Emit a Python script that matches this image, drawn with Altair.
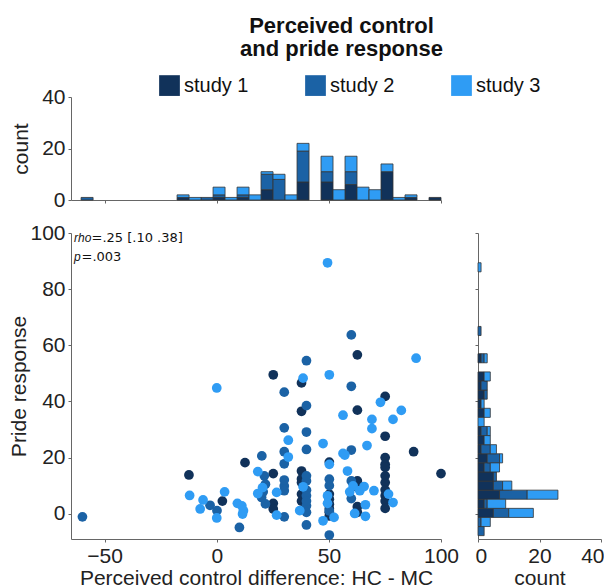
import altair as alt
import pandas as pd

STUDIES = ["study 1", "study 2", "study 3"]
COLORS = ["#11325a", "#1b62a5", "#2f9cf4"]

# ---- scatter data (perceived control difference, pride response) ----
x1 = [-12.4, 2.5, 12.6, 25.2, 25.2, 25.2, 25.2, 37.8, 37.8, 37.8, 37.8, 37.8, 37.8, 37.8,
      50.2, 50.2, 50.2, 50.2, 50.2, 50.2, 50.2, 62.7, 62.7, 62.7, 62.7, 62.7, 62.7,
      75.1, 75.1, 75.1, 75.1, 75.1, 75.1, 75.1, 75.1, 75.1, 75.1, 75.1, 87.8, 100.0]
y1 = [13.8, 4.5, 18.2, 49.5, 14.3, 3.7, 1.7, 46.6, 36.5, 15.2, 12.4, 11.1, 7.0, 4.5,
      18.4, 7.0, 5.2, 3.4, 1.8, 0.5, -0.8, 56.6, 36.9, 11.7, 9.5, 0.5, 2.5,
      41.8, 27.6, 20.0, 17.6, 16.5, 11.1, 6.4, 4.5, 1.9, 8.5, 13.5, 22.1, 14.3]
x2 = [-59.9, -3.0, 0.1, 10.1, 20.1, 20.0, 20.7, 21.7, 21.7, 21.2,
      30.1, 30.1, 30.1, 30.1, 30.1, 30.1, 30.1, 30.1,
      40.0, 40.0, 40.0, 40.0, 40.0, 40.0, 40.0, 40.0, 40.0, 40.0, 40.0, 40.0,
      50.2, 50.2, 50.2, 50.2, 60.0, 60.0, 60.0, 60.0, 60.0]
y2 = [-1.1, 3.0, 1.1, -4.9, 20.6, 5.8, 7.8, 10.5, 3.5, 13.5,
      43.3, 30.6, 22.1, 17.8, 9.9, 8.2, -1.1, 12.0,
      54.5, 38.5, 29.1, 22.9, 11.7, 8.4, 6.4, 2.8, 0.5, -4.0, 4.5, 13.5,
      12.3, -7.6, 10.0, 1.0, 63.7, 45.4, 22.7, 11.7, 5.4]
x3 = [-12.1, -7.4, -6.1, 0.0, 0.0, 3.5, 9.2, 11.2, 11.9, 11.5, 18.3, 18.3, 20.4, 26.7, 26.7,
      31.9, 31.9, 37.0, 38.5, 38.5, 50.2, 47.4, 50.2, 49.4, 49.4, 52.3, 47.4, 49.4,
      56.3, 56.3, 57.1, 58.3, 60.8, 59.3, 63.8, 65.7, 61.5, 66.3, 66.3, 70.1, 69.2, 69.2,
      67.0, 73.0, 78.6, 82.3, 76.6, 78.6, 88.9]
y3 = [6.5, 1.7, 4.9, 44.8, -1.5, 7.8, 3.7, 2.8, 1.1, -0.1, 15.0, 7.2, 9.3, 7.6, -0.5,
      26.2, 20.2, 1.1, 48.3, 9.6, 49.5, 25.0, 17.6, 6.4, 3.7, -1.3, -2.5, 89.4,
      35.1, 21.5, 20.9, 15.2, 9.9, 7.8, 8.2, 9.7, 0.1, 3.2, -0.9, 8.2, 33.6, 30.3,
      24.3, 39.7, 33.6, 36.8, 7.0, 4.0, 55.4]

# ---- top histogram (perceived control), 30 bins ----
top_start = -60.5
top_width = 5.35
top_s1 = [0,0,0,0,0,0,0,0,1,0,0,1,0,1,0,4,0,0,7,0,7,0,6,0,0,11,0,1,0,1]
top_s2 = [1,0,0,0,0,0,0,0,0,0,1,1,0,1,0,6,8,0,12,0,4,0,5,0,0,0,0,0,0,0]
top_s3 = [0,0,0,0,0,0,0,0,1,1,0,3,1,3,2,1,2,2,3,0,6,4,6,5,4,3,1,1,0,0]

# ---- right histogram (pride response), 30 bins ----
right_start = -7.8
right_width = 3.24
right_s1 = [0,0,5,2,7,5,5,2,3,1,2,1,0,2,1,2,1,2,0,1,0,0,0,0,0,0,0,0,0,0]
right_s2 = [2,1,5,1,9,3,1,2,4,3,0,2,0,0,0,1,2,0,0,1,0,0,1,0,0,0,0,0,0,0]
right_s3 = [0,3,8,6,10,3,0,3,1,2,2,1,2,2,1,0,0,2,0,1,0,0,0,0,0,0,0,0,0,1]

FONT = "Liberation Sans"
ANN_FONT = "DejaVu Sans"
LABEL_FS = 21
TITLE_FS = 21

scat_rows = []
for i, (xs, ys) in enumerate([(x1, y1), (x2, y2), (x3, y3)]):
    for a, b in zip(xs, ys):
        scat_rows.append({"x": a, "y": b, "study": STUDIES[i], "idx": i})
scat_df = pd.DataFrame(scat_rows)


def hist_rows(start, width, series):
    rows = []
    for i, counts in enumerate(series):
        for k, c in enumerate(counts):
            if c > 0:
                rows.append({"lo": start + k * width, "hi": start + (k + 1) * width,
                             "count": c, "study": STUDIES[i], "idx": i})
    return pd.DataFrame(rows)


top_df = hist_rows(top_start, top_width, [top_s1, top_s2, top_s3])
right_df = hist_rows(right_start, right_width, [right_s1, right_s2, right_s3])

color_scale = alt.Scale(domain=STUDIES, range=COLORS)
xdom = alt.Scale(domain=[-65, 100], nice=False, zero=False, padding=0)
ydom = alt.Scale(domain=[-9, 100], nice=False, zero=False, padding=0)
cdom = alt.Scale(domain=[0, 40], nice=False, zero=False, padding=0)

stack_sort = [alt.SortField("idx", order="ascending")]

top = alt.Chart(top_df).transform_stack(
    stack="count", groupby=["lo"], as_=["c0", "c1"], sort=stack_sort
).mark_rect(stroke="#333333", strokeWidth=0.8).encode(
    x=alt.X("lo:Q", scale=xdom,
            axis=alt.Axis(labels=False, title=None, values=[-50, 0, 50, 100], tickSize=3)),
    x2="hi:Q",
    y=alt.Y("c0:Q", scale=cdom,
            axis=alt.Axis(values=[0, 20, 40], title="count", minExtent=40, titlePadding=0,
                          tickSize=3)),
    y2="c1:Q",
    color=alt.Color("study:N", scale=color_scale,
                    legend=alt.Legend(title=None, orient="none", direction="horizontal",
                                      legendX=88, legendY=-22, symbolType="square",
                                      symbolSize=430, symbolStrokeWidth=0,
                                      symbolOpacity=1,
                                      labelFontSize=20, labelFont=FONT, labelColor="#111",
                                      columnPadding=56, labelOffset=4)),
).properties(width=370, height=103)

points = alt.Chart(scat_df).mark_circle(size=95, opacity=1).encode(
    x=alt.X("x:Q", scale=xdom,
            axis=alt.Axis(values=[-50, 0, 50, 100], title="Perceived control difference: HC - MC",
                          tickSize=3, labelPadding=3, titlePadding=1, labelFlush=False)),
    y=alt.Y("y:Q", scale=ydom,
            axis=alt.Axis(values=[0, 20, 40, 60, 80, 100], title="Pride response",
                          minExtent=40, titlePadding=0, tickSize=3)),
    color=alt.Color("study:N", scale=color_scale, legend=None),
    order=alt.Order("idx:Q"),
)

t_rho = alt.Chart(pd.DataFrame({"t": ["rho"]})).mark_text(
    align="left", baseline="alphabetic", fontSize=12, fontStyle="italic", font=FONT, color="#111"
).encode(text="t:N", x=alt.value(3), y=alt.value(9))
t_rho2 = alt.Chart(pd.DataFrame({"t": ["=.25 [.10 .38]"]})).mark_text(
    align="left", baseline="alphabetic", fontSize=13, font=ANN_FONT, color="#111"
).encode(text="t:N", x=alt.value(20.5), y=alt.value(9))
t_p = alt.Chart(pd.DataFrame({"t": ["p"]})).mark_text(
    align="left", baseline="alphabetic", fontSize=12, fontStyle="italic", font=FONT, color="#111"
).encode(text="t:N", x=alt.value(3), y=alt.value(28))
t_p2 = alt.Chart(pd.DataFrame({"t": ["=.003"]})).mark_text(
    align="left", baseline="alphabetic", fontSize=13, font=ANN_FONT, color="#111"
).encode(text="t:N", x=alt.value(10.5), y=alt.value(28))

scatter = alt.layer(points, t_rho, t_rho2, t_p, t_p2).properties(width=370, height=306)

right = alt.Chart(right_df).transform_stack(
    stack="count", groupby=["lo"], as_=["c0", "c1"], sort=stack_sort
).mark_rect(stroke="#333333", strokeWidth=0.8).encode(
    y=alt.Y("lo:Q", scale=ydom,
            axis=alt.Axis(labels=False, title=None, values=[0, 20, 40, 60, 80, 100], tickSize=3)),
    y2="hi:Q",
    x=alt.X("c0:Q", scale=cdom,
            axis=alt.Axis(values=[0, 20, 40], title="count", tickSize=3, labelPadding=3,
                          titlePadding=1, labelFlush=True, labelFlushOffset=3)),
    x2="c1:Q",
    color=alt.Color("study:N", scale=color_scale, legend=None),
).properties(width=123, height=306)

bottom = alt.hconcat(scatter, right, spacing=15).resolve_scale(y="independent")

chart = alt.vconcat(top, bottom, spacing=12).resolve_scale(x="independent").properties(
    title=alt.TitleParams(["Perceived control", "and pride response"], fontSize=22,
                          fontWeight="bold", font=FONT, anchor="middle", lineHeight=23,
                          offset=14, color="#111", dx=35),
    padding={"left": 0, "top": 7, "right": 0, "bottom": 0},
).configure_view(stroke=None).configure_axis(
    grid=False, domainColor="#666666", tickColor="#666666", labelFont=FONT, titleFont=FONT,
    labelFontSize=LABEL_FS, titleFontSize=TITLE_FS, titleFontWeight="normal",
    labelColor="#222222", titleColor="#222222", labelPadding=3
)

chart.save("out.html", embed_options={"renderer": "svg", "actions": False})
